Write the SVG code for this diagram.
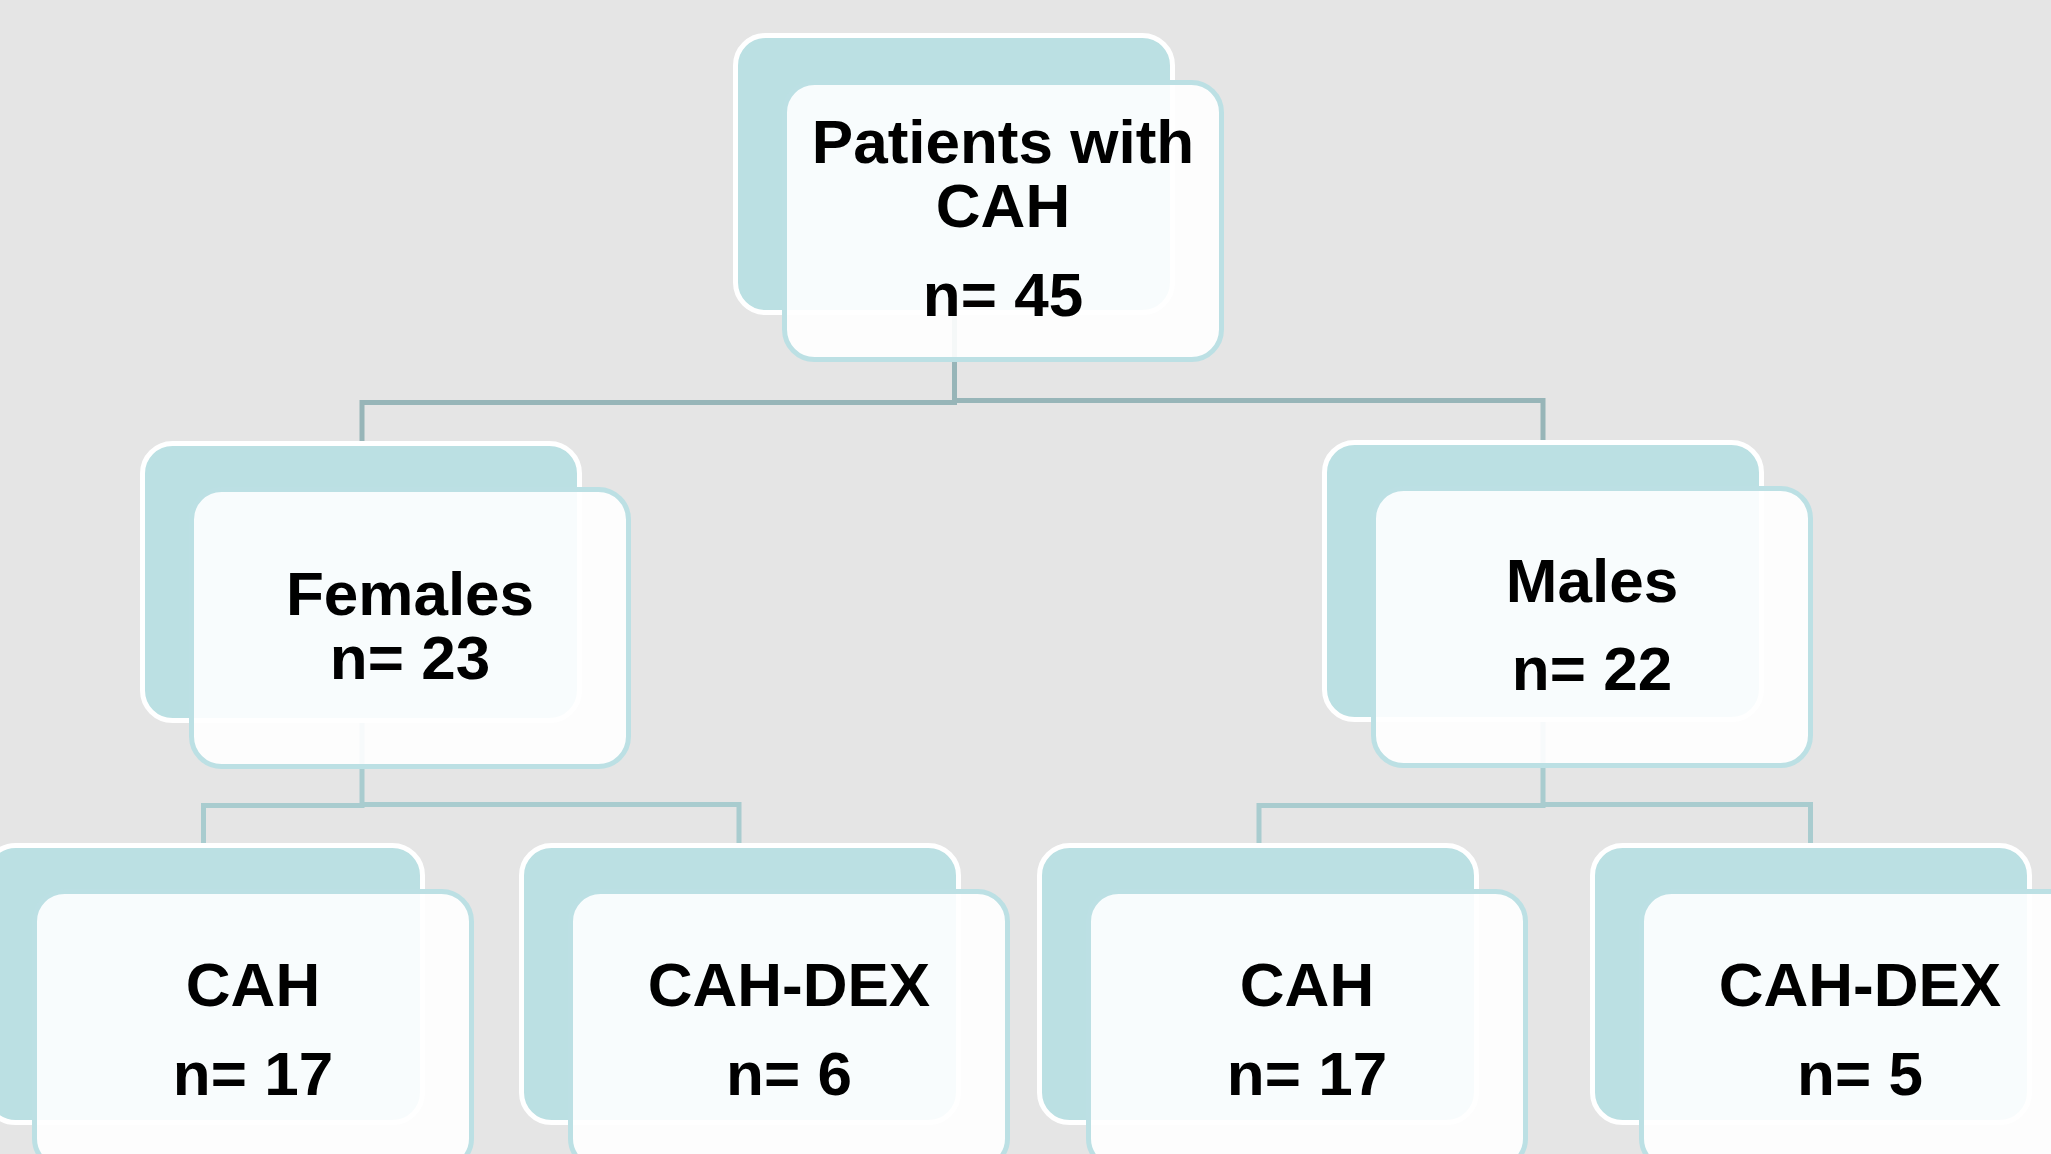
<svg xmlns="http://www.w3.org/2000/svg" width="2051" height="1154" viewBox="0 0 2051 1154">
<style>
.bg{fill:#E5E5E5}
.back{fill:#BBE0E3;stroke:#FFFFFF;stroke-width:5}
.front{fill:#FFFFFF;fill-opacity:0.9;stroke:#BCE0E4;stroke-width:5}
.c1{fill:none;stroke:#97B5B8;stroke-width:5}
.c2{fill:none;stroke:#A9CCCF;stroke-width:5}
text{font-family:"Liberation Sans",Arial,sans-serif;font-weight:bold;font-size:62px;fill:#000000;text-anchor:middle}
</style>
<rect class="bg" x="0" y="0" width="2051" height="1154"/>
<g id="connectors">
<path class="c1" d="M954.5,315 V402.5 H362 V441"/>
<path class="c1" d="M954.5,400.5 H1543 V440"/>
<path class="c2" d="M362,723 V805.5 H203.5 V843"/>
<path class="c2" d="M362,804.5 H739 V843"/>
<path class="c2" d="M1543,721 V805.5 H1259 V843"/>
<path class="c2" d="M1543,804.5 H1810.5 V843"/>
</g>
<g id="node-patients">
<rect class="back" x="735.5" y="35.5" width="437" height="277" rx="30"/>
<rect class="front" x="784.5" y="82.5" width="437" height="277" rx="30"/>
<text x="1003" y="163">Patients with</text>
<text x="1003" y="227">CAH</text>
<text x="1003" y="316">n= 45</text>
</g>
<g id="node-females">
<rect class="back" x="142.5" y="443.5" width="437" height="277" rx="30"/>
<rect class="front" x="191.5" y="489.5" width="437" height="277" rx="30"/>
<text x="410" y="615">Females</text>
<text x="410" y="679">n= 23</text>
</g>
<g id="node-males">
<rect class="back" x="1324.5" y="442.5" width="437" height="277" rx="30"/>
<rect class="front" x="1373.5" y="488.5" width="437" height="277" rx="30"/>
<text x="1592" y="602">Males</text>
<text x="1592" y="690">n= 22</text>
</g>
<g id="node-f-cah">
<rect class="back" x="-14.5" y="845.5" width="437" height="277" rx="30"/>
<rect class="front" x="34.5" y="891.5" width="437" height="277" rx="30"/>
<text x="253" y="1006">CAH</text>
<text x="253" y="1095">n= 17</text>
</g>
<g id="node-f-cahdex">
<rect class="back" x="521.5" y="845.5" width="437" height="277" rx="30"/>
<rect class="front" x="570.5" y="891.5" width="437" height="277" rx="30"/>
<text x="789" y="1006">CAH-DEX</text>
<text x="789" y="1095">n= 6</text>
</g>
<g id="node-m-cah">
<rect class="back" x="1039.5" y="845.5" width="437" height="277" rx="30"/>
<rect class="front" x="1088.5" y="891.5" width="437" height="277" rx="30"/>
<text x="1307" y="1006">CAH</text>
<text x="1307" y="1095">n= 17</text>
</g>
<g id="node-m-cahdex">
<rect class="back" x="1592.5" y="845.5" width="437" height="277" rx="30"/>
<rect class="front" x="1641.5" y="891.5" width="437" height="277" rx="30"/>
<text x="1860" y="1006">CAH-DEX</text>
<text x="1860" y="1095">n= 5</text>
</g>
</svg>
